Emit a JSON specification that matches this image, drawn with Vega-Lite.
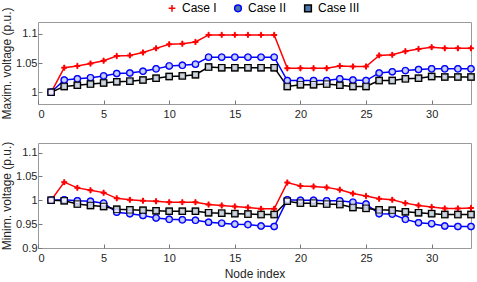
{
  "$schema": "https://vega.github.io/schema/vega-lite/v6.json",
  "padding": {"left": 0, "right": 3, "top": 2, "bottom": 0},
  "background": "white",
  "config": {
    "font": "Liberation Sans",
    "view": {"stroke": "#9a9a9a", "strokeWidth": 1},
    "axis": {
      "labelFont": "Liberation Sans", "labelFontSize": 11, "labelColor": "#262626",
      "titleFont": "Liberation Sans", "titleFontSize": 12, "titleFontWeight": "normal", "titleColor": "#262626",
      "domain": false, "grid": false, "tickColor": "#777", "tickSize": -4, "labelPadding": 8
    },
    "axisY": {"titlePadding": 2, "labelPadding": 5},
    "axisX": {"titlePadding": 5},
    "legend": {
      "orient": "none", "legendX": 128, "legendY": -20, "direction": "horizontal",
      "labelFont": "Liberation Sans", "labelFontSize": 12, "labelColor": "#000",
      "symbolSize": 45, "symbolStrokeWidth": 1.5, "labelOffset": 4, "columnPadding": 14, "title": null
    }
  },
  "data": {"values": [
    {"n":1,"c":"Case I","max":1.0,"min":1.0},
    {"n":2,"c":"Case I","max":1.042,"min":1.038},
    {"n":3,"c":"Case I","max":1.045,"min":1.026},
    {"n":4,"c":"Case I","max":1.049,"min":1.021},
    {"n":5,"c":"Case I","max":1.054,"min":1.016},
    {"n":6,"c":"Case I","max":1.062,"min":1.004},
    {"n":7,"c":"Case I","max":1.063,"min":1.001},
    {"n":8,"c":"Case I","max":1.068,"min":0.999},
    {"n":9,"c":"Case I","max":1.075,"min":0.998},
    {"n":10,"c":"Case I","max":1.082,"min":0.996},
    {"n":11,"c":"Case I","max":1.083,"min":0.996},
    {"n":12,"c":"Case I","max":1.086,"min":0.996},
    {"n":13,"c":"Case I","max":1.098,"min":0.991},
    {"n":14,"c":"Case I","max":1.098,"min":0.989},
    {"n":15,"c":"Case I","max":1.098,"min":0.987},
    {"n":16,"c":"Case I","max":1.098,"min":0.985},
    {"n":17,"c":"Case I","max":1.098,"min":0.982},
    {"n":18,"c":"Case I","max":1.098,"min":0.982},
    {"n":19,"c":"Case I","max":1.041,"min":1.037},
    {"n":20,"c":"Case I","max":1.041,"min":1.030},
    {"n":21,"c":"Case I","max":1.041,"min":1.029},
    {"n":22,"c":"Case I","max":1.041,"min":1.027},
    {"n":23,"c":"Case I","max":1.045,"min":1.022},
    {"n":24,"c":"Case I","max":1.044,"min":1.014},
    {"n":25,"c":"Case I","max":1.044,"min":1.009},
    {"n":26,"c":"Case I","max":1.063,"min":1.003},
    {"n":27,"c":"Case I","max":1.064,"min":1.001},
    {"n":28,"c":"Case I","max":1.070,"min":0.994},
    {"n":29,"c":"Case I","max":1.074,"min":0.989},
    {"n":30,"c":"Case I","max":1.077,"min":0.986},
    {"n":31,"c":"Case I","max":1.075,"min":0.983},
    {"n":32,"c":"Case I","max":1.075,"min":0.983},
    {"n":33,"c":"Case I","max":1.075,"min":0.984},
    {"n":1,"c":"Case II","max":1.0,"min":1.0},
    {"n":2,"c":"Case II","max":1.021,"min":1.001},
    {"n":3,"c":"Case II","max":1.023,"min":0.999},
    {"n":4,"c":"Case II","max":1.025,"min":0.998},
    {"n":5,"c":"Case II","max":1.028,"min":0.994},
    {"n":6,"c":"Case II","max":1.032,"min":0.975},
    {"n":7,"c":"Case II","max":1.033,"min":0.972},
    {"n":8,"c":"Case II","max":1.036,"min":0.968},
    {"n":9,"c":"Case II","max":1.040,"min":0.963},
    {"n":10,"c":"Case II","max":1.045,"min":0.960},
    {"n":11,"c":"Case II","max":1.046,"min":0.959},
    {"n":12,"c":"Case II","max":1.048,"min":0.958},
    {"n":13,"c":"Case II","max":1.060,"min":0.954},
    {"n":14,"c":"Case II","max":1.060,"min":0.952},
    {"n":15,"c":"Case II","max":1.060,"min":0.950},
    {"n":16,"c":"Case II","max":1.060,"min":0.949},
    {"n":17,"c":"Case II","max":1.060,"min":0.946},
    {"n":18,"c":"Case II","max":1.060,"min":0.945},
    {"n":19,"c":"Case II","max":1.020,"min":1.001},
    {"n":20,"c":"Case II","max":1.020,"min":1.0},
    {"n":21,"c":"Case II","max":1.020,"min":1.0},
    {"n":22,"c":"Case II","max":1.020,"min":0.999},
    {"n":23,"c":"Case II","max":1.023,"min":0.999},
    {"n":24,"c":"Case II","max":1.021,"min":0.996},
    {"n":25,"c":"Case II","max":1.020,"min":0.992},
    {"n":26,"c":"Case II","max":1.033,"min":0.972},
    {"n":27,"c":"Case II","max":1.035,"min":0.971},
    {"n":28,"c":"Case II","max":1.037,"min":0.960},
    {"n":29,"c":"Case II","max":1.039,"min":0.953},
    {"n":30,"c":"Case II","max":1.040,"min":0.951},
    {"n":31,"c":"Case II","max":1.040,"min":0.946},
    {"n":32,"c":"Case II","max":1.040,"min":0.945},
    {"n":33,"c":"Case II","max":1.040,"min":0.945},
    {"n":1,"c":"Case III","max":1.0,"min":1.0},
    {"n":2,"c":"Case III","max":1.010,"min":0.999},
    {"n":3,"c":"Case III","max":1.012,"min":0.992},
    {"n":4,"c":"Case III","max":1.014,"min":0.989},
    {"n":5,"c":"Case III","max":1.016,"min":0.987},
    {"n":6,"c":"Case III","max":1.018,"min":0.981},
    {"n":7,"c":"Case III","max":1.019,"min":0.980},
    {"n":8,"c":"Case III","max":1.021,"min":0.979},
    {"n":9,"c":"Case III","max":1.024,"min":0.978},
    {"n":10,"c":"Case III","max":1.027,"min":0.977},
    {"n":11,"c":"Case III","max":1.028,"min":0.977},
    {"n":12,"c":"Case III","max":1.030,"min":0.977},
    {"n":13,"c":"Case III","max":1.043,"min":0.974},
    {"n":14,"c":"Case III","max":1.042,"min":0.973},
    {"n":15,"c":"Case III","max":1.042,"min":0.972},
    {"n":16,"c":"Case III","max":1.042,"min":0.971},
    {"n":17,"c":"Case III","max":1.042,"min":0.970},
    {"n":18,"c":"Case III","max":1.042,"min":0.970},
    {"n":19,"c":"Case III","max":1.010,"min":0.998},
    {"n":20,"c":"Case III","max":1.013,"min":0.994},
    {"n":21,"c":"Case III","max":1.013,"min":0.994},
    {"n":22,"c":"Case III","max":1.014,"min":0.992},
    {"n":23,"c":"Case III","max":1.012,"min":0.991},
    {"n":24,"c":"Case III","max":1.010,"min":0.985},
    {"n":25,"c":"Case III","max":1.010,"min":0.983},
    {"n":26,"c":"Case III","max":1.020,"min":0.980},
    {"n":27,"c":"Case III","max":1.020,"min":0.979},
    {"n":28,"c":"Case III","max":1.023,"min":0.976},
    {"n":29,"c":"Case III","max":1.024,"min":0.974},
    {"n":30,"c":"Case III","max":1.027,"min":0.972},
    {"n":31,"c":"Case III","max":1.026,"min":0.970},
    {"n":32,"c":"Case III","max":1.026,"min":0.970},
    {"n":33,"c":"Case III","max":1.026,"min":0.970}
  ]},
  "spacing": 20,
  "vconcat": [
    {
      "width": 433, "height": 82,
      "encoding": {
        "x": {"field": "n", "type": "quantitative", "scale": {"domain": [0, 33], "nice": false}, "axis": {"values": [0,5,10,15,20,25,30], "title": null}},
        "y": {"field": "max", "type": "quantitative", "scale": {"domain": [0.98, 1.12], "nice": false, "zero": false}, "axis": {"values": [1, 1.05, 1.1], "format": "~g", "title": "Maxim. voltage (p.u.)"}},
        "stroke": {"field": "c", "type": "nominal", "title": null, "scale": {"domain": ["Case I","Case II","Case III"], "range": ["#ff0000","#0000ff","#000000"]}, "legend": {"title": null}},
        "shape": {"field": "c", "type": "nominal", "title": null, "scale": {"domain": ["Case I","Case II","Case III"], "range": ["M-1,0L1,0M0,-1L0,1","circle","square"]}}
      },
      "layer": [
        {"mark": {"type": "line", "strokeWidth": 1.5}},
        {"mark": {"type": "point", "filled": false, "fill": "white", "size": 40, "strokeWidth": 1.2}}
      ]
    },
    {
      "width": 433, "height": 105,
      "encoding": {
        "x": {"field": "n", "type": "quantitative", "scale": {"domain": [0, 33], "nice": false}, "axis": {"values": [0,5,10,15,20,25,30], "title": "Node index"}},
        "y": {"field": "min", "type": "quantitative", "scale": {"domain": [0.9, 1.12], "nice": false, "zero": false}, "axis": {"values": [0.9, 0.95, 1, 1.05, 1.1], "format": "~g", "title": "Minim. voltage (p.u.)"}},
        "stroke": {"field": "c", "type": "nominal", "title": null, "scale": {"domain": ["Case I","Case II","Case III"], "range": ["#ff0000","#0000ff","#000000"]}, "legend": {"title": null}},
        "shape": {"field": "c", "type": "nominal", "title": null, "scale": {"domain": ["Case I","Case II","Case III"], "range": ["M-1,0L1,0M0,-1L0,1","circle","square"]}}
      },
      "layer": [
        {"mark": {"type": "line", "strokeWidth": 1.5}},
        {"mark": {"type": "point", "filled": false, "fill": "white", "size": 40, "strokeWidth": 1.2}}
      ]
    }
  ]
}
